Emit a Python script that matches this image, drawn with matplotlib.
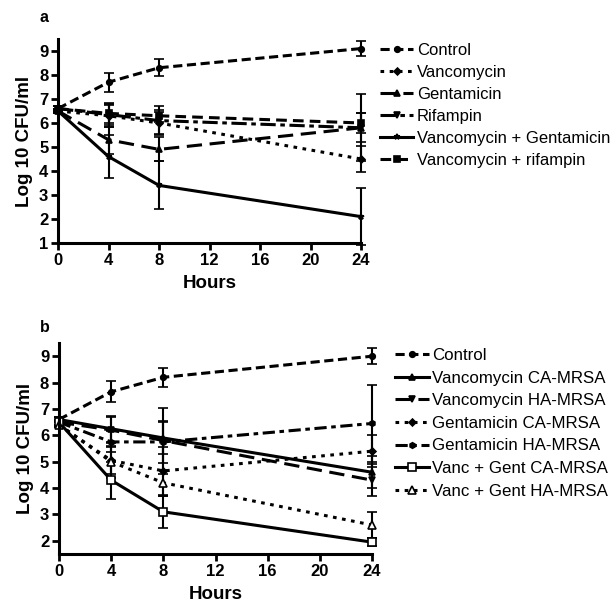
import matplotlib
matplotlib.use("Agg")
import matplotlib.pyplot as plt
from matplotlib.lines import Line2D

plt.rcParams['font.family'] = ['Liberation Sans', 'DejaVu Sans']

hours = [0, 4, 8, 24]
xticks = [0, 4, 8, 12, 16, 20, 24]

# Panel a
a_labels = ["Control", "Vancomycin", "Gentamicin", "Rifampin",
            "Vancomycin + Gentamicin", "Vancomycin + rifampin"]
a_control = [6.6, 7.7, 8.3, 9.1]
a_control_err = [0.1, 0.4, 0.35, 0.3]
a_vanc = [6.5, 6.3, 6.0, 4.5]
a_vanc_err = [0.1, 0.45, 0.45, 0.55]
a_gent = [6.5, 5.3, 4.9, 5.8]
a_gent_err = [0.1, 0.6, 0.5, 0.6]
a_rif = [6.6, 6.35, 6.1, 5.8]
a_rif_err = [0.1, 0.5, 0.6, 1.4]
a_vg = [6.5, 4.6, 3.4, 2.1]
a_vg_err = [0.1, 0.9, 1.0, 1.2]
a_vr = [6.6, 6.4, 6.3, 6.0]
a_vr_err = [0.1, 0.4, 0.25, 0.4]

# Panel b
b_labels = ["Control", "Vancomycin CA-MRSA", "Vancomycin HA-MRSA",
            "Gentamicin CA-MRSA", "Gentamicin HA-MRSA",
            "Vanc + Gent CA-MRSA", "Vanc + Gent HA-MRSA"]
b_control = [6.6, 7.65, 8.2, 9.0]
b_control_err = [0.1, 0.4, 0.35, 0.3]
b_vanc_ca = [6.6, 6.25, 5.9, 4.6]
b_vanc_ca_err = [0.1, 0.5, 0.6, 0.6]
b_vanc_ha = [6.5, 6.2, 5.8, 4.3]
b_vanc_ha_err = [0.1, 0.5, 1.25, 0.6]
b_gent_ca = [6.4, 5.05, 4.65, 5.4]
b_gent_ca_err = [0.1, 0.5, 0.9, 0.6]
b_gent_ha = [6.5, 5.75, 5.75, 6.45]
b_gent_ha_err = [0.1, 0.4, 0.8, 1.45]
b_vg_ca = [6.5, 4.3, 3.1, 1.95]
b_vg_ca_err = [0.1, 0.7, 0.6, 0.15]
b_vg_ha = [6.4, 5.0, 4.2, 2.6]
b_vg_ha_err = [0.1, 0.6, 0.5, 0.5]

fig = plt.figure(figsize=(6.14, 6.02), dpi=100)

ax1 = fig.add_axes([0.0945, 0.5963, 0.4935, 0.339])
ax2 = fig.add_axes([0.096, 0.0797, 0.51, 0.3505])

def style(ax, ylim, yticks):
    ax.set_xlim(0, 24)
    ax.set_ylim(*ylim)
    ax.set_xticks(xticks)
    ax.set_yticks(yticks)
    for s in ['top', 'right']:
        ax.spines[s].set_visible(False)
    for s in ['left', 'bottom']:
        ax.spines[s].set_linewidth(2.2)
    ax.tick_params(width=2, length=5, labelsize=12, pad=2)
    for lab in ax.get_xticklabels() + ax.get_yticklabels():
        lab.set_fontweight('bold')
    ax.set_xlabel("Hours", fontsize=13.5, fontweight='bold', labelpad=5)
    ax.set_ylabel("Log 10 CFU/ml", fontsize=13.5, fontweight='bold', labelpad=4)

def series(ax, y, e, ls, marker, mfc='black', ms=4):
    ax.errorbar(hours, y, yerr=e, color='black', linestyle=ls, linewidth=2.2,
                marker=marker, markersize=ms, markerfacecolor=mfc,
                markeredgecolor='black', markeredgewidth=1.2,
                ecolor='black', elinewidth=1.5, capsize=3.5, capthick=1.5,
                clip_on=False)
    return Line2D([], [], color='black', linestyle=ls, linewidth=2.2,
                  marker=marker, markersize=ms, markerfacecolor=mfc,
                  markeredgecolor='black', markeredgewidth=1.2)

ha = [
    series(ax1, a_control, a_control_err, (0, (3, 1.5)), 'o'),
    series(ax1, a_vanc, a_vanc_err, (0, (1.2, 1.8)), 'D', ms=3.5),
    series(ax1, a_gent, a_gent_err, (0, (5, 2.5)), '^'),
    series(ax1, a_rif, a_rif_err, (0, (5, 1.5, 1.5, 1.5)), 'v'),
    series(ax1, a_vg, a_vg_err, '-', '*'),
    series(ax1, a_vr, a_vr_err, (0, (3.5, 2)), 's'),
]
style(ax1, (1, 9.5), range(1, 10))

hb = [
    series(ax2, b_control, b_control_err, (0, (3, 1.5)), 'o'),
    series(ax2, b_vanc_ca, b_vanc_ca_err, '-', '^'),
    series(ax2, b_vanc_ha, b_vanc_ha_err, (0, (5, 2.5)), 'v'),
    series(ax2, b_gent_ca, b_gent_ca_err, (0, (1.2, 1.8)), 'D', ms=3.5),
    series(ax2, b_gent_ha, b_gent_ha_err, (0, (4, 1.5, 1.5, 1.5)), 'h'),
    series(ax2, b_vg_ca, b_vg_ca_err, '-', 's', mfc='white', ms=5.5),
    series(ax2, b_vg_ha, b_vg_ha_err, (0, (1.2, 1.8)), '^', mfc='white', ms=5.5),
]
style(ax2, (1.5, 9.5), range(2, 10))

fig.legend(handles=ha, labels=a_labels,
           loc='upper left', bbox_to_anchor=(380 / 614, 1 - 43 / 602),
           frameon=False, fontsize=12, handlelength=2.0, handletextpad=0.2,
           labelspacing=0.42, borderpad=0, borderaxespad=0)
fig.legend(handles=hb, labels=b_labels,
           loc='upper left', bbox_to_anchor=(395 / 614, 1 - 348 / 602),
           frameon=False, fontsize=12.2, handlelength=2.0, handletextpad=0.2,
           labelspacing=0.45, borderpad=0, borderaxespad=0)

fig.text(40 / 614, 1 - 18 / 602, "a", fontsize=11.5, fontweight='bold', va='center')
fig.text(40 / 614, 1 - 328 / 602, "b", fontsize=11.5, fontweight='bold', va='center')

fig.savefig("out.png", dpi=100)
